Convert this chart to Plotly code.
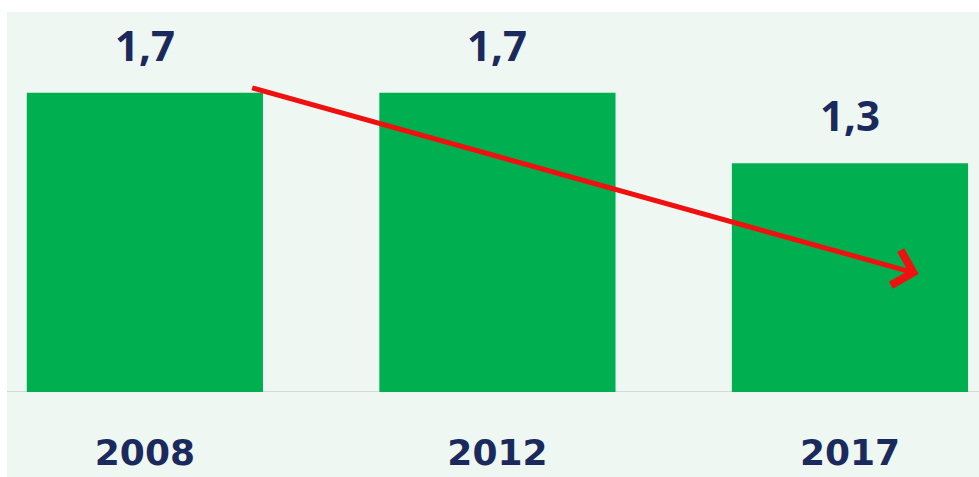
import plotly.graph_objects as go

# Data
years = ["2008", "2012", "2017"]
values = [1.7, 1.7, 1.3]
value_labels = ["1,7", "1,7", "1,3"]

BAR_GREEN = "#00b050"
NAVY = "#1b2a5c"
MINT = "#eef7f1"
YEAR_FONT = "DejaVu Sans"
VALUE_FONT = "Open Sans"

x_pos = list(range(len(years)))

fig = go.Figure()
fig.add_trace(go.Bar(
    x=x_pos,
    y=values,
    width=0.67,
    marker=dict(color=BAR_GREEN, line=dict(width=0)),
    hoverinfo="skip",
))

# Value labels above the bars
for xi, v, lbl in zip(x_pos, values, value_labels):
    fig.add_annotation(
        x=xi, y=v, text=f"<b>{lbl}</b>", showarrow=False,
        xanchor="center", yanchor="bottom", yshift=18,
        font=dict(family=VALUE_FONT, size=42, color=NAVY),
    )

# Downward trend arrow
fig.add_annotation(
    x=2.195, y=0.67, ax=0.30, ay=1.73,
    xref="x", yref="y", axref="x", ayref="y",
    text="", showarrow=True,
    arrowhead=4, arrowsize=1.4, arrowwidth=5, arrowcolor="#f01010",
)

# Light panel behind the chart and the baseline under the bars
fig.add_shape(type="rect", xref="paper", yref="paper",
              x0=7 / 979, x1=1.0, y0=-85 / 392, y1=(392 - 12) / 392,
              fillcolor=MINT, line=dict(width=0), layer="below")
fig.add_shape(type="line", xref="paper", yref="y",
              x0=7 / 979, x1=1.0, y0=0, y1=0,
              line=dict(color="#d6d9d7", width=2), layer="below")

fig.update_layout(
    width=979, height=477,
    margin=dict(l=0, r=0, t=0, b=85),
    paper_bgcolor="white",
    plot_bgcolor="rgba(0,0,0,0)",
    showlegend=False,
    xaxis=dict(
        range=[-0.411, 2.366],
        tickvals=x_pos, ticktext=[f"<b>{y}</b>" for y in years],
        tickfont=dict(family=YEAR_FONT, size=36, color=NAVY),
        showgrid=False, zeroline=False, showline=False, ticks="",
        ticklabelstandoff=36,
    ),
    yaxis=dict(
        range=[0, 392 / 176],
        visible=False, showgrid=False, zeroline=False,
    ),
)

fig.write_html("out.html")
